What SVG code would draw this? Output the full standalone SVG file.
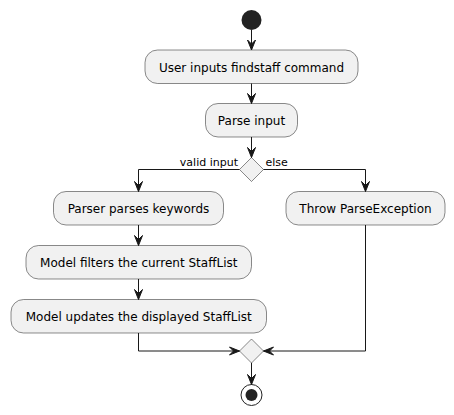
<svg xmlns="http://www.w3.org/2000/svg" width="454" height="415" viewBox="0 0 454 415">
<style>
.box{fill:#F1F1F1;stroke:#181818;stroke-width:0.5}
.t{font-family:"DejaVu Sans",sans-serif;font-size:12px;fill:#000;text-anchor:middle}
.l{font-family:"DejaVu Sans",sans-serif;font-size:11px;fill:#000}
.ln{fill:none;stroke:#181818;stroke-width:1}
.ah{fill:#181818;stroke:#181818;stroke-width:1}
</style>
<rect width="454" height="415" fill="#FFFFFF"/>
<g id="start"><circle cx="251.5" cy="20" r="10" fill="#222222"/></g>
<g id="n1"><rect class="box" x="145" y="50" width="213" height="33.5" rx="12.5"/><text class="t" x="251.5" y="71.5">User inputs findstaff command</text></g>
<g id="n2"><rect class="box" x="205.5" y="103.5" width="92" height="33.5" rx="12.5"/><text class="t" x="251.5" y="125">Parse input</text></g>
<g id="d1"><polygon class="box" points="251.5,157.5 263.5,169.5 251.5,181.5 239.5,169.5"/></g>
<g id="n3"><rect class="box" x="53.5" y="191.5" width="170" height="33.5" rx="12.5"/><text class="t" x="138.5" y="213">Parser parses keywords</text></g>
<g id="n4"><rect class="box" x="286" y="191.5" width="159" height="33.5" rx="12.5"/><text class="t" x="365.5" y="213">Throw ParseException</text></g>
<g id="n5"><rect class="box" x="26" y="245.5" width="225.5" height="33.5" rx="12.5"/><text class="t" x="138.75" y="267">Model filters the current StaffList</text></g>
<g id="n6"><rect class="box" x="11" y="299.5" width="255.5" height="33.5" rx="12.5"/><text class="t" x="138.75" y="321">Model updates the displayed StaffList</text></g>
<g id="d2"><polygon class="box" points="251.5,339 263.5,351 251.5,363 239.5,351"/></g>
<g id="end"><circle cx="251.5" cy="395" r="10.5" fill="none" stroke="#222222" stroke-width="1"/><circle cx="251.5" cy="395" r="6" fill="#222222"/></g>
<g id="connectors">
<line class="ln" x1="251.5" y1="30" x2="251.5" y2="50"/>
<polygon class="ah" points="247.5,40 251.5,50 255.5,40 251.5,44"/>
<line class="ln" x1="251.5" y1="83.5" x2="251.5" y2="103.5"/>
<polygon class="ah" points="247.5,93.5 251.5,103.5 255.5,93.5 251.5,97.5"/>
<line class="ln" x1="251.5" y1="137" x2="251.5" y2="157.5"/>
<polygon class="ah" points="247.5,147.5 251.5,157.5 255.5,147.5 251.5,151.5"/>
<polyline class="ln" points="239.5,169.5 138.5,169.5 138.5,191.5"/>
<polygon class="ah" points="134.5,181.5 138.5,191.5 142.5,181.5 138.5,185.5"/>
<text class="l" x="238" y="166" text-anchor="end">valid input</text>
<polyline class="ln" points="263.5,169.5 365.5,169.5 365.5,191.5"/>
<polygon class="ah" points="361.5,181.5 365.5,191.5 369.5,181.5 365.5,185.5"/>
<text class="l" x="265.5" y="166">else</text>
<line class="ln" x1="138.5" y1="225" x2="138.5" y2="245.5"/>
<polygon class="ah" points="134.5,235.5 138.5,245.5 142.5,235.5 138.5,239.5"/>
<line class="ln" x1="138.5" y1="279" x2="138.5" y2="299.5"/>
<polygon class="ah" points="134.5,289.5 138.5,299.5 142.5,289.5 138.5,293.5"/>
<polyline class="ln" points="138.5,333 138.5,351 239.5,351"/>
<polygon class="ah" points="229.5,347 239.5,351 229.5,355 233.5,351"/>
<polyline class="ln" points="365.5,225 365.5,351 263.5,351"/>
<polygon class="ah" points="273.5,347 263.5,351 273.5,355 269.5,351"/>
<line class="ln" x1="251.5" y1="363" x2="251.5" y2="384.5"/>
<polygon class="ah" points="247.5,374.5 251.5,384.5 255.5,374.5 251.5,378.5"/>
</g>
</svg>
